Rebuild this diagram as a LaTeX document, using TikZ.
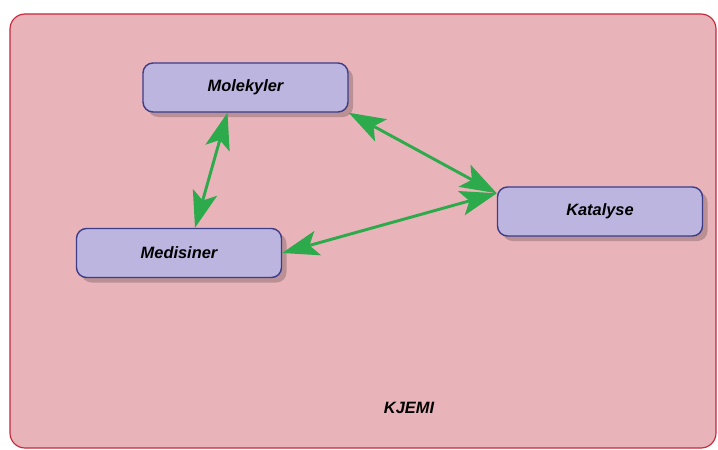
\documentclass[tikz,border=0pt]{standalone}
\usepackage{fontspec}
\setsansfont{Liberation Sans}
\usetikzlibrary{arrows.meta,shadows}
\definecolor{bgpink}{HTML}{E9B4B9}
\definecolor{bgred}{HTML}{C8283A}
\definecolor{boxfill}{HTML}{BCB5E0}
\definecolor{boxline}{HTML}{3C3C88}
\definecolor{arrgreen}{HTML}{2DAA4B}
\tikzset{
  topic/.style={draw=boxline, line width=1.2pt, fill=boxfill, rounded corners=0.3cm,
    minimum width=6.15cm, minimum height=1.47cm, font=\sffamily\bfseries\itshape\fontsize{14}{16}\selectfont,
    drop shadow={shadow xshift=0.15cm, shadow yshift=-0.15cm, fill=black, opacity=0.2}},
  link/.style={arrgreen, line width=2.5pt,
    {Stealth[length=1.1cm,width=0.75cm,inset=0.25cm]}-{Stealth[length=1.1cm,width=0.75cm,inset=0.25cm]}}
}
\begin{document}
\begin{tikzpicture}[x=0.03cm,y=-0.03cm]
  \fill[white] (0,0) rectangle (718,450);
  \draw[bgred, line width=1pt, fill=bgpink, rounded corners=0.45cm] (10,14) rectangle (716,448);
  \node[topic] (mol) at (245.5,87.5) {Molekyler};
  \node[topic] (kat) at (600,211.5) {Katalyse};
  \node[topic] (med) at (179,253) {Medisiner};
  \node[font=\sffamily\bfseries\itshape\fontsize{14}{16}\selectfont] (fag) at (409,408) {KJEMI};
  \draw[link] ([xshift=-0.54cm]mol.south) -- ([xshift=0.48cm]med.north);
  \draw[link] (mol.south east) -- ([yshift=-0.21cm]kat.north west);
  \draw[link] (med.east) -- ([yshift=-0.21cm]kat.north west);
\end{tikzpicture}
\end{document}
